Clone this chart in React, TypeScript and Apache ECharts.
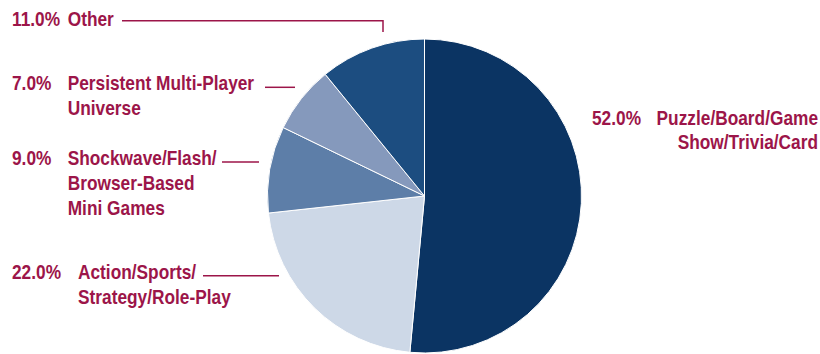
import React, { useEffect, useRef } from "react";
import * as echarts from "echarts";

const names = [
  "Puzzle/Board/Game Show/Trivia/Card",
  "Action/Sports/ Strategy/Role-Play",
  "Shockwave/Flash/ Browser-Based Mini Games",
  "Persistent Multi-Player Universe",
  "Other",
];
const values = [52.0, 22.0, 9.0, 7.0, 11.0];
const nameLines = [
  ["Puzzle/Board/Game", "Show/Trivia/Card"],
  ["Action/Sports/", "Strategy/Role-Play"],
  ["Shockwave/Flash/", "Browser-Based", "Mini Games"],
  ["Persistent Multi-Player", "Universe"],
  ["Other"],
];
const colors = ["#0b3463", "#cdd8e7", "#5d7ea8", "#8599bc", "#1c4d80"];

const TEXT_COLOR = "#9c1549";
const FONT = "'Liberation Sans', Arial, sans-serif";
const FS = 20;
const SX = 0.865;

// label layout: percent x, name x, first line cap-center y, line height, align, leader line
const layout = [
  { px: 592, nx: 818, y: 118, lh: 24.5, align: "right", line: null as number[][] | null },
  { px: 12, nx: 78, y: 272.5, lh: 24.5, align: "left", line: [[203, 275.7], [279, 275.7]] },
  { px: 12, nx: 67.7, y: 158, lh: 25, align: "left", line: [[222, 162], [259, 162]] },
  { px: 12, nx: 67.7, y: 83.5, lh: 24.5, align: "left", line: [[265, 87.3], [295, 87.3]] },
  { px: 12, nx: 67.7, y: 19.5, lh: 24.5, align: "left", line: [[122, 20.7], [383, 20.7], [383, 32]] },
];

export default function App() {
  const ref = useRef<HTMLDivElement>(null);
  useEffect(() => {
    if (!ref.current) return;
    const chart = echarts.init(ref.current, null, { renderer: "svg" });
    const graphics: any[] = [];
    values.forEach((v, i) => {
      const L = layout[i];
      graphics.push({
        type: "text",
        x: L.px,
        y: L.y,
        scaleX: SX,
        style: {
          text: v.toFixed(1) + "%",
          fill: TEXT_COLOR,
          font: `bold ${FS}px ${FONT}`,
          align: "left",
          verticalAlign: "middle",
        },
      });
      nameLines[i].forEach((ln, j) => {
        graphics.push({
          type: "text",
          x: L.nx,
          y: L.y + j * L.lh,
          scaleX: SX,
          style: {
            text: ln,
            fill: TEXT_COLOR,
            font: `bold ${FS}px ${FONT}`,
            align: L.align,
            verticalAlign: "middle",
          },
        });
      });
      if (L.line) {
        graphics.push({
          type: "polyline",
          shape: { points: L.line },
          style: { stroke: TEXT_COLOR, lineWidth: 1.5, fill: null },
        });
      }
    });
    chart.setOption({
      animation: false,
      backgroundColor: "#ffffff",
      series: [
        {
          type: "pie",
          center: [424.5, 196],
          radius: [0, 157],
          startAngle: 90,
          clockwise: true,
          label: { show: false },
          labelLine: { show: false },
          emphasis: { disabled: true },
          itemStyle: { borderColor: "#ffffff", borderWidth: 1 },
          data: values.map((v, i) => ({
            name: names[i],
            value: v,
            itemStyle: { color: colors[i] },
          })),
        },
      ],
      graphic: graphics,
    });
    return () => chart.dispose();
  }, []);
  return (
    <div
      ref={ref}
      style={{ position: "fixed", left: 0, top: 0, width: 820, height: 354 }}
    />
  );
}
